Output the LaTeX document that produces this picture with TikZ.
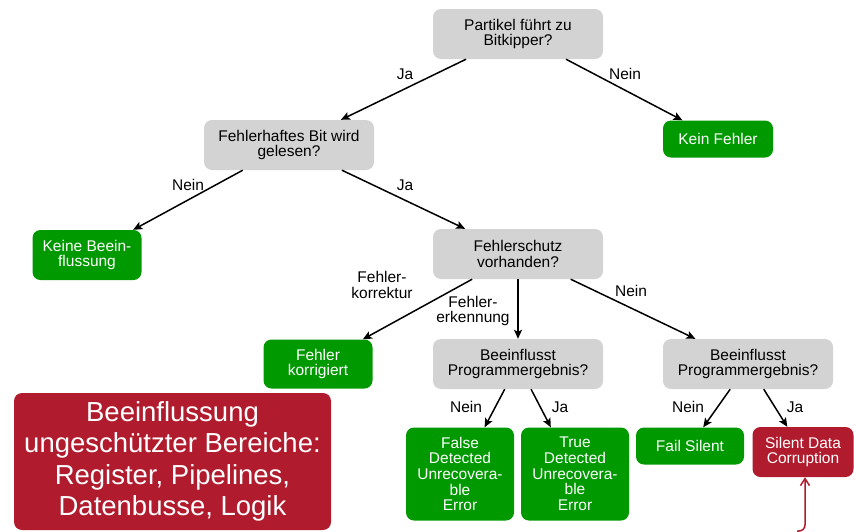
\documentclass[tikz,border=0pt]{standalone}
\usepackage{fontspec}
\setmainfont{Liberation Sans}
\usepackage{tikz}
\usetikzlibrary{arrows.meta,calc,positioning}

\definecolor{qgray}{RGB}{211,211,211}
\definecolor{okgreen}{RGB}{0,153,0}
\definecolor{badred}{RGB}{176,28,46}

\tikzset{
  box/.style={rounded corners=8pt,inner sep=0pt,align=center,
    font=\fontsize{15.5}{15.7}\selectfont},
  question/.style={box,fill=qgray,text=black,minimum width=170pt,minimum height=50pt},
  good/.style={box,fill=okgreen,text=white},
  bad/.style={box,fill=badred,text=white},
  edge/.style={line width=1.5pt,-{Stealth[length=9pt,width=8pt,inset=2pt]}},
  lbl/.style={align=center,inner sep=0pt,font=\fontsize{15.5}{15.7}\selectfont}
}

\begin{document}
\begin{tikzpicture}[x=1pt,y=-1pt]
\useasboundingbox (0,0) rectangle (854,531);
% Fragen
\node[question] (flip) at (518,34) {Partikel führt zu\\Bitkipper?};
\node[question] (read) at (289,145) {Fehlerhaftes Bit wird\\gelesen?};
\node[question] (prot) at (518,254) {Fehlerschutz\\vorhanden?};
\node[question] (effA) at (518,364) {Beeinflusst\\Programmergebnis?};
\node[question] (effB) at (748,364) {Beeinflusst\\Programmergebnis?};
% Ergebnisse
\node[good,minimum width=110pt,minimum height=37pt] (nofault) at (718,139) {Kein Fehler};
\node[good,minimum width=109pt,minimum height=50pt] (noeff) at (87,255) {Keine Beein-\\flussung};
\node[good,minimum width=109pt,minimum height=49pt] (corr) at (318,364) {Fehler\\korrigiert};
\node[good,minimum width=108pt,minimum height=93pt] (fdue) at (460,474) {False\\Detected\\Unrecovera-\\ble\\Error};
\node[good,minimum width=108pt,minimum height=93pt] (tdue) at (575,474) {True\\Detected\\Unrecovera-\\ble\\Error};
\node[good,minimum width=108pt,minimum height=37pt] (fs) at (690,446) {Fail Silent};
\node[bad,minimum width=101pt,minimum height=50pt] (sdc) at (803,452) {Silent Data\\Corruption};
\node[bad,minimum width=317pt,minimum height=137pt,font=\fontsize{27.5}{31.5}\selectfont] (unprot) at (172.5,461.5)
  {Beeinflussung\\ungeschützter Bereiche:\\Register, Pipelines,\\Datenbusse, Logik};
% Kanten
\draw[edge] (flip) -- (read);
\draw[edge] (flip) -- (nofault);
\draw[edge] (read) -- (noeff);
\draw[edge] (read) -- (prot);
\draw[edge] (prot) -- (corr);
\draw[edge] (prot) -- (effA);
\draw[edge] (prot) -- (effB);
\draw[edge] (effA) -- (fdue);
\draw[edge] (effA) -- (tdue);
\draw[edge] (effB) -- (fs);
\draw[edge] (effB) -- (sdc);
\coordinate (feed) at (797,531);
\draw[badred,line width=1.5pt,rounded corners=6pt,-{Straight Barb[length=7pt,width=9pt]}]
  (feed) -| ($(sdc.south)+(2,0)$);
% Beschriftungen
\node[lbl] at (405,74) {Ja};
\node[lbl] at (625,74) {Nein};
\node[lbl] at (188,185) {Nein};
\node[lbl] at (405,185) {Ja};
\node[lbl] at (382,285) {Fehler-\\korrektur};
\node[lbl] at (473,311) {Fehler-\\erkennung};
\node[lbl] at (631,291) {Nein};
\node[lbl] at (466,407) {Nein};
\node[lbl] at (560,407) {Ja};
\node[lbl] at (688,407) {Nein};
\node[lbl] at (795,407) {Ja};
\end{tikzpicture}
\end{document}
